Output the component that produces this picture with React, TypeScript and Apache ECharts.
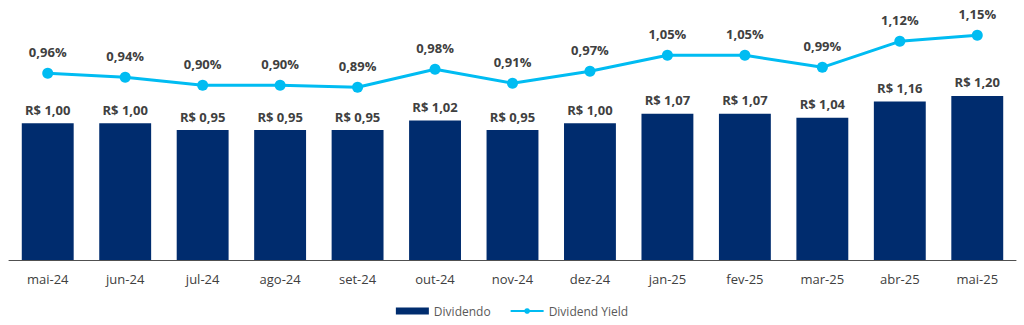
import React, { useEffect, useRef } from "react";
import * as echarts from "echarts";

const categories = ["mai-24", "jun-24", "jul-24", "ago-24", "set-24", "out-24", "nov-24", "dez-24", "jan-25", "fev-25", "mar-25", "abr-25", "mai-25"];
const dividendo = [1.0, 1.0, 0.95, 0.95, 0.95, 1.02, 0.95, 1.0, 1.07, 1.07, 1.04, 1.16, 1.2];
const dividendYield = [0.96, 0.94, 0.9, 0.9, 0.89, 0.98, 0.91, 0.97, 1.05, 1.05, 0.99, 1.12, 1.15];

const FONT = "'Open Sans', sans-serif";

export default function App() {
  const ref = useRef<HTMLDivElement>(null);
  useEffect(() => {
    if (!ref.current) return;
    const chart = echarts.init(ref.current, null, { renderer: "svg" });
    chart.setOption({
      animation: false,
      textStyle: { fontFamily: FONT },
      grid: { left: 9, right: 8, top: 5.3, bottom: 65, containLabel: false },
      legend: {
        bottom: 3,
        left: "center",
        itemGap: 19,
        itemWidth: 33,
        itemHeight: 7,
        textStyle: { color: "#595959", fontSize: 12, fontFamily: FONT },
        data: [
          { name: "Dividendo", icon: "rect" },
          { name: "Dividend Yield" },
        ],
      },
      xAxis: {
        type: "category",
        data: categories,
        axisTick: { show: false },
        axisLine: { lineStyle: { color: "#505050", width: 1 } },
        axisLabel: { color: "#404040", fontSize: 13, margin: 12, fontFamily: FONT },
      },
      yAxis: [
        { type: "value", min: 0, max: 1.863, show: false, splitLine: { show: false } },
        { type: "value", min: 0.0265, max: 1.3, show: false, splitLine: { show: false } },
      ],
      series: [
        {
          name: "Dividendo",
          type: "bar",
          data: dividendo,
          barWidth: "67%",
          itemStyle: { color: "#002C6E" },
          label: {
            show: true,
            position: "top",
            distance: 7,
            color: "#404040",
            fontWeight: "bold",
            fontSize: 13,
            fontFamily: FONT,
            formatter: (p: any) => "R$ " + p.value.toFixed(2).replace(".", ","),
          },
        },
        {
          name: "Dividend Yield",
          type: "line",
          yAxisIndex: 1,
          data: dividendYield,
          symbol: "circle",
          symbolSize: 11,
          lineStyle: { color: "#00BCF2", width: 3 },
          itemStyle: { color: "#00BCF2" },
          label: {
            show: true,
            position: "top",
            distance: 9,
            color: "#404040",
            fontWeight: "bold",
            fontSize: 13,
            fontFamily: FONT,
            formatter: (p: any) => p.value.toFixed(2).replace(".", ",") + "%",
          },
        },
      ],
    });
    return () => chart.dispose();
  }, []);
  return <div ref={ref} style={{ width: 1024, height: 325, position: "absolute", left: 0, top: 0 }} />;
}
